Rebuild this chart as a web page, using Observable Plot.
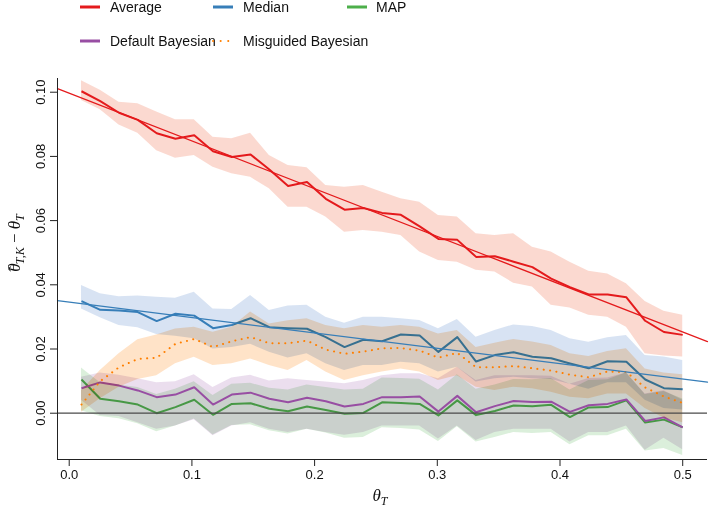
<!DOCTYPE html>
<html>
<head>
<meta charset="utf-8">
<script src="https://cdn.jsdelivr.net/npm/d3@7"></script>
<script src="https://cdn.jsdelivr.net/npm/@observablehq/plot@0.6"></script>
<style>
  html, body { margin: 0; padding: 0; background: white; }
</style>
</head>
<body>
<div id="chart"></div>
<script>
// ---- data ----
const thetaT = [0.0100, 0.0253, 0.0406, 0.0559, 0.0713, 0.0866, 0.1019, 0.1172, 0.1325, 0.1478,
  0.1631, 0.1784, 0.1938, 0.2091, 0.2244, 0.2397, 0.2550, 0.2703, 0.2856, 0.3009,
  0.3163, 0.3316, 0.3469, 0.3622, 0.3775, 0.3928, 0.4081, 0.4234, 0.4388, 0.4541,
  0.4694, 0.4847, 0.5000];

const seriesNames = ["Average", "Median", "MAP", "Default Bayesian", "Misguided Bayesian"];

const average = [0.1003, 0.0972, 0.0936, 0.0914, 0.0872, 0.0855, 0.0866, 0.0816, 0.0798, 0.0806,
  0.0759, 0.0708, 0.0720, 0.0668, 0.0634, 0.0639, 0.0624, 0.0618, 0.0582, 0.0543,
  0.0540, 0.0487, 0.0489, 0.0472, 0.0455, 0.0419, 0.0393, 0.0370, 0.0370, 0.0361,
  0.0288, 0.0253, 0.0244];
const averageHi = [0.1036, 0.1006, 0.0969, 0.0964, 0.0938, 0.0914, 0.0914, 0.0860, 0.0855, 0.0872,
  0.0803, 0.0772, 0.0765, 0.0709, 0.0704, 0.0709, 0.0688, 0.0668, 0.0657, 0.0616,
  0.0611, 0.0559, 0.0554, 0.0559, 0.0517, 0.0502, 0.0470, 0.0442, 0.0434, 0.0403,
  0.0348, 0.0318, 0.0305];
const averageLo = [0.0974, 0.0945, 0.0898, 0.0872, 0.0818, 0.0794, 0.0803, 0.0766, 0.0746, 0.0735,
  0.0699, 0.0642, 0.0642, 0.0611, 0.0564, 0.0569, 0.0564, 0.0554, 0.0502, 0.0476,
  0.0470, 0.0445, 0.0440, 0.0405, 0.0393, 0.0336, 0.0328, 0.0305, 0.0299, 0.0268,
  0.0185, 0.0178, 0.0175];

const median = [0.0349, 0.0322, 0.0320, 0.0315, 0.0287, 0.0310, 0.0304, 0.0265, 0.0275, 0.0296,
  0.0268, 0.0265, 0.0263, 0.0237, 0.0206, 0.0229, 0.0224, 0.0245, 0.0242, 0.0191,
  0.0237, 0.0161, 0.0181, 0.0190, 0.0176, 0.0171, 0.0155, 0.0140, 0.0162, 0.0160,
  0.0105, 0.0078, 0.0075];
const medianHi = [0.0398, 0.0372, 0.0363, 0.0365, 0.0361, 0.0358, 0.0377, 0.0325, 0.0323, 0.0367,
  0.0320, 0.0334, 0.0336, 0.0299, 0.0280, 0.0299, 0.0299, 0.0294, 0.0289, 0.0263,
  0.0292, 0.0237, 0.0258, 0.0275, 0.0270, 0.0258, 0.0232, 0.0221, 0.0235, 0.0242,
  0.0180, 0.0175, 0.0164];
const medianLo = [0.0325, 0.0297, 0.0273, 0.0266, 0.0245, 0.0240, 0.0232, 0.0200, 0.0205, 0.0215,
  0.0190, 0.0172, 0.0185, 0.0154, 0.0133, 0.0149, 0.0149, 0.0159, 0.0154, 0.0128,
  0.0143, 0.0097, 0.0107, 0.0112, 0.0107, 0.0105, 0.0090, 0.0075, 0.0095, 0.0095,
  0.0040, 0.0015, 0.0010];

const mapEst = [0.0105, 0.0045, 0.0037, 0.0027, 0.0000, 0.0019, 0.0042, -0.0005, 0.0029, 0.0031,
  0.0014, 0.0006, 0.0021, 0.0010, -0.0002, 0.0001, 0.0034, 0.0032, 0.0029, -0.0007,
  0.0040, -0.0006, 0.0007, 0.0024, 0.0022, 0.0026, -0.0012, 0.0018, 0.0019, 0.0040,
  -0.0029, -0.0020, -0.0044];
const mapHi = [0.0141, 0.0095, 0.0088, 0.0080, 0.0058, 0.0075, 0.0098, 0.0055, 0.0090, 0.0093,
  0.0078, 0.0072, 0.0088, 0.0080, 0.0072, 0.0075, 0.0110, 0.0108, 0.0106, 0.0072,
  0.0120, 0.0075, 0.0088, 0.0105, 0.0104, 0.0108, 0.0072, 0.0102, 0.0104, 0.0126,
  0.0058, 0.0068, 0.0044];
const mapLo = [0.0008, -0.0010, -0.0017, -0.0033, -0.0058, -0.0040, -0.0018, -0.0068, -0.0038, -0.0036,
  -0.0055, -0.0065, -0.0050, -0.0062, -0.0078, -0.0076, -0.0045, -0.0048, -0.0052, -0.0088,
  -0.0042, -0.0090, -0.0076, -0.0060, -0.0063, -0.0060, -0.0098, -0.0070, -0.0070, -0.0050,
  -0.0118, -0.0110, -0.0132];

const defaultBayes = [0.0078, 0.0096, 0.0086, 0.0071, 0.0050, 0.0058, 0.0081, 0.0027, 0.0058, 0.0064,
  0.0045, 0.0034, 0.0048, 0.0037, 0.0021, 0.0029, 0.0050, 0.0050, 0.0052, 0.0005,
  0.0054, 0.0003, 0.0022, 0.0038, 0.0035, 0.0036, 0.0004, 0.0025, 0.0029, 0.0043,
  -0.0024, -0.0013, -0.0044];
const defaultHi = [0.0112, 0.0125, 0.0118, 0.0107, 0.0095, 0.0098, 0.0120, 0.0080, 0.0110, 0.0118,
  0.0100, 0.0107, 0.0102, 0.0097, 0.0092, 0.0102, 0.0117, 0.0123, 0.0123, 0.0107,
  0.0143, 0.0102, 0.0117, 0.0117, 0.0117, 0.0115, 0.0090, 0.0108, 0.0110, 0.0125,
  0.0060, 0.0070, 0.0040];
const defaultLo = [0.0040, -0.0007, -0.0010, -0.0030, -0.0050, -0.0040, -0.0020, -0.0070, -0.0040, -0.0030,
  -0.0050, -0.0060, -0.0050, -0.0060, -0.0069, -0.0060, -0.0040, -0.0040, -0.0040, -0.0080,
  -0.0040, -0.0085, -0.0060, -0.0050, -0.0050, -0.0050, -0.0090, -0.0060, -0.0060, -0.0040,
  -0.0115, -0.0078, -0.0114];

const misguided = [0.0027, 0.0100, 0.0143, 0.0169, 0.0173, 0.0216, 0.0231, 0.0206, 0.0224, 0.0237,
  0.0218, 0.0218, 0.0226, 0.0198, 0.0185, 0.0192, 0.0202, 0.0203, 0.0195, 0.0173,
  0.0188, 0.0143, 0.0143, 0.0147, 0.0140, 0.0133, 0.0120, 0.0112, 0.0130, 0.0128,
  0.0080, 0.0052, 0.0032];
const misguidedHi = [0.0070, 0.0133, 0.0185, 0.0229, 0.0244, 0.0262, 0.0268, 0.0252, 0.0268, 0.0315,
  0.0278, 0.0288, 0.0294, 0.0273, 0.0263, 0.0273, 0.0268, 0.0273, 0.0268, 0.0247,
  0.0258, 0.0205, 0.0218, 0.0230, 0.0222, 0.0211, 0.0185, 0.0177, 0.0192, 0.0201,
  0.0138, 0.0125, 0.0120];
const misguidedLo = [0.0003, 0.0045, 0.0081, 0.0105, 0.0117, 0.0154, 0.0174, 0.0149, 0.0154, 0.0169,
  0.0149, 0.0133, 0.0164, 0.0128, 0.0102, 0.0117, 0.0128, 0.0138, 0.0128, 0.0102,
  0.0117, 0.0081, 0.0071, 0.0081, 0.0076, 0.0065, 0.0050, 0.0045, 0.0060, 0.0060,
  0.0015, -0.0015, -0.0030];

// fitted straight lines (intercept, slope)
const averageFit = [0.0997, -0.1488];
const medianFit = [0.0346, -0.0479];

const xTicks = [0, 0.1, 0.2, 0.3, 0.4, 0.5];
const yTicks = [0, 0.02, 0.04, 0.06, 0.08, 0.10];

// ---- build tables ----
const colors = {
  "Average": "#E41A1C",
  "Median": "#377EB8",
  "MAP": "#4DAF4A",
  "Default Bayesian": "#984EA3",
  "Misguided Bayesian": "#FF7F00"
};
const bandFill = {
  "Average": "#F0603A",
  "Median": "#4F7FC8",
  "MAP": "#4DAF4A",
  "Default Bayesian": "#9A58A8",
  "Misguided Bayesian": "#FF8A1A"
};
const bandOpacity = {
  "Average": 0.24,
  "Median": 0.22,
  "MAP": 0.2,
  "Default Bayesian": 0.2,
  "Misguided Bayesian": 0.24
};
const seriesData = {
  "Average": [average, averageLo, averageHi],
  "Median": [median, medianLo, medianHi],
  "MAP": [mapEst, mapLo, mapHi],
  "Default Bayesian": [defaultBayes, defaultLo, defaultHi],
  "Misguided Bayesian": [misguided, misguidedLo, misguidedHi]
};
function rows(name) {
  const [v, lo, hi] = seriesData[name];
  return thetaT.map((x, i) => ({x, y: v[i], lo: lo[i], hi: hi[i], series: name}));
}
const xDomain = [-0.00954, 0.5202];
const yDomain = [-0.01442, 0.10427];
function fitRows(coef) {
  return xDomain.map(x => ({x, y: coef[0] + coef[1] * x}));
}

const seriesMarks = seriesNames.flatMap(name => {
  const dotted = name === "Misguided Bayesian";
  return [
    Plot.areaY(rows(name), {x: "x", y1: "lo", y2: "hi", fill: bandFill[name], fillOpacity: bandOpacity[name], mixBlendMode: "multiply"}),
    Plot.line(rows(name), {
      x: "x", y: "y", stroke: colors[name], strokeWidth: 2,
      strokeDasharray: dotted ? "0.1 6.3" : null,
      strokeLinecap: dotted ? "round" : "butt"
    })
  ];
});

const plot = Plot.plot({
  width: 709,
  height: 513,
  marginLeft: 57,
  marginRight: 2,
  marginTop: 78,
  marginBottom: 54,
  x: {domain: xDomain},
  y: {domain: yDomain},
  style: {fontFamily: "'Liberation Sans', Arial, sans-serif", fontSize: "13px", color: "#111", background: "white"},
  marks: [
    ...seriesMarks,
    Plot.ruleY([0], {stroke: "#4a4a4a", strokeWidth: 1.3}),
    Plot.line(fitRows(averageFit), {x: "x", y: "y", stroke: colors["Average"], strokeWidth: 1.2}),
    Plot.line(fitRows(medianFit), {x: "x", y: "y", stroke: colors["Median"], strokeWidth: 1.2}),
    Plot.ruleX([xDomain[0]], {stroke: "#222", strokeWidth: 1}),
    Plot.ruleY([yDomain[0]], {stroke: "#222", strokeWidth: 1}),
    Plot.axisX({ticks: xTicks, tickSize: 7, tickPadding: 3, tickFormat: d3.format(".1f"), label: null, stroke: "#222"}),
    Plot.axisY({ticks: yTicks, tickSize: 7, tickPadding: 6, tickRotate: -90, tickFormat: d3.format(".2f"), label: null, stroke: "#222"})
  ]
});

document.getElementById("chart").appendChild(plot);

// ---- axis titles and legend ----
const svg = d3.select(plot);

const xt = svg.append("text")
  .attr("x", 380).attr("y", 501)
  .attr("text-anchor", "middle")
  .attr("font-family", "'Liberation Serif', 'DejaVu Serif', serif")
  .attr("font-style", "italic")
  .attr("font-size", 17)
  .attr("fill", "#111");
xt.append("tspan").text("θ");
xt.append("tspan").attr("dy", 4).attr("font-size", 12).text("T");

const yt = svg.append("text")
  .attr("transform", "translate(20,243) rotate(-90)")
  .attr("text-anchor", "middle")
  .attr("font-family", "'Liberation Serif', 'DejaVu Serif', serif")
  .attr("font-style", "italic")
  .attr("font-size", 17)
  .attr("fill", "#111");
yt.append("tspan").text("θ");
yt.append("tspan").attr("dx", -8.5).attr("dy", 0).attr("font-size", 17).attr("font-style", "normal").text("ˆ");
yt.append("tspan").attr("dx", 2).attr("dy", 4).attr("font-size", 12).text("T,K");
yt.append("tspan").attr("dy", -4).attr("font-style", "normal").text(" − ");
yt.append("tspan").text("θ");
yt.append("tspan").attr("dy", 4).attr("font-size", 12).text("T");

const legendItems = [
  {name: "Average", sx: 80, tx: 110, y: 7},
  {name: "Median", sx: 213, tx: 243, y: 7},
  {name: "MAP", sx: 347, tx: 376, y: 7},
  {name: "Default Bayesian", sx: 80, tx: 110, y: 41},
  {name: "Misguided Bayesian", sx: 213, tx: 243, y: 41}
];
const lg = svg.append("g")
  .attr("font-family", "'Liberation Sans', Arial, sans-serif")
  .attr("font-size", 14)
  .attr("text-anchor", "start")
  .attr("fill", "#111");
legendItems.forEach(it => {
  const dotted = it.name === "Misguided Bayesian";
  lg.append("line")
    .attr("x1", it.sx).attr("x2", dotted ? it.sx + 16 : it.sx + 20)
    .attr("y1", it.y).attr("y2", it.y)
    .attr("stroke", colors[it.name])
    .attr("stroke-width", dotted ? 2 : 3)
    .attr("stroke-linecap", dotted ? "round" : "butt")
    .attr("stroke-dasharray", dotted ? "0.1 7.5" : null);
  lg.append("text")
    .attr("x", it.tx).attr("y", it.y)
    .attr("dy", "0.35em")
    .attr("text-anchor", "start")
    .text(it.name);
});
</script>
</body>
</html>
